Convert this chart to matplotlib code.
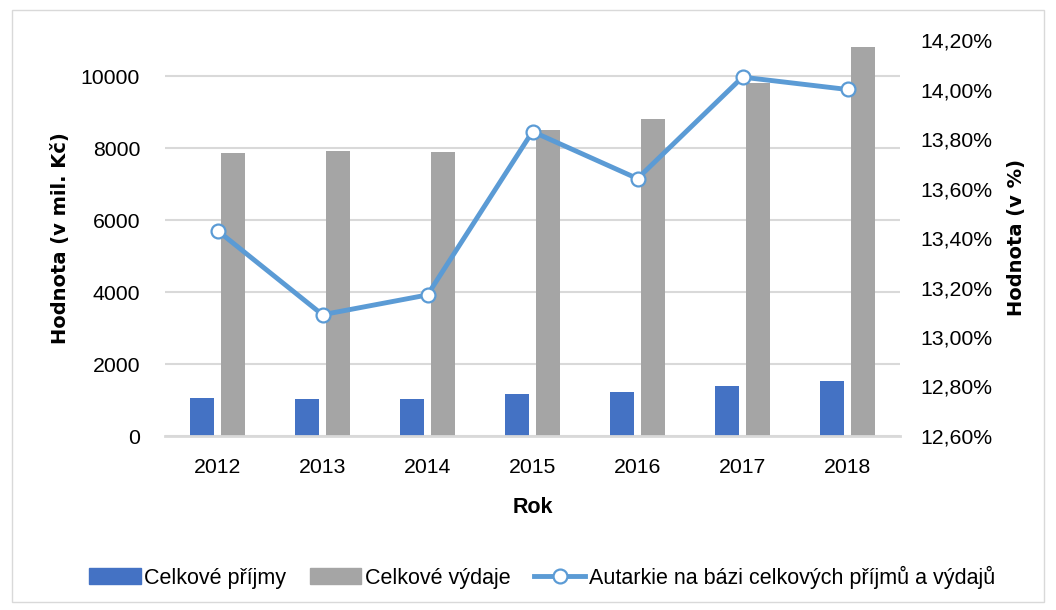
import numpy as np
import matplotlib
matplotlib.use("Agg")
import matplotlib.pyplot as plt
from matplotlib.patches import Rectangle
from matplotlib.lines import Line2D
from matplotlib.ticker import FuncFormatter

# Data
years = ["2012", "2013", "2014", "2015", "2016", "2017", "2018"]
prijmy = [1056, 1037, 1037, 1180, 1213, 1380, 1518]        # mil. Kč
vydaje = [7861, 7917, 7880, 8491, 8806, 9806, 10806]       # mil. Kč
autarkie = [13.43, 13.09, 13.17, 13.83, 13.64, 14.05, 14.00]  # %

blue = "#4472C4"
gray = "#A5A5A5"
line_blue = "#5B9BD5"
grid_col = "#D9D9D9"

txt_font = ["Liberation Sans", "DejaVu Sans"]
fs = 15.3

fig = plt.figure(figsize=(10.56, 6.10), dpi=100)
ax = fig.add_axes([165 / 1056, 1 - 436 / 610, 735 / 1056, 396 / 610])

x = np.arange(len(years))
w = 0.225
ax.bar(x - 0.145, prijmy, width=w, color=blue, zorder=2)
ax.bar(x + 0.145, vydaje, width=w, color=gray, zorder=2)

ax.set_xlim(-0.5, len(years) - 0.5)
ax.set_ylim(0, 11000)
ax.set_yticks([0, 2000, 4000, 6000, 8000, 10000])
ax.set_xticks(x)
ax.set_xticklabels(years)
ax.yaxis.grid(True, color=grid_col, linewidth=1.5, zorder=0)
ax.set_axisbelow(True)
for s in ["top", "right", "left"]:
    ax.spines[s].set_visible(False)
ax.spines["bottom"].set_color(grid_col)
ax.spines["bottom"].set_linewidth(2)
ax.tick_params(axis="both", length=0, labelsize=fs)
ax.tick_params(axis="y", pad=18)
ax.tick_params(axis="x", pad=16)
for lab in ax.get_xticklabels() + ax.get_yticklabels():
    lab.set_family(txt_font)

ax.set_ylabel("Hodnota (v mil. Kč)", fontsize=14, fontweight="bold", family="DejaVu Sans", labelpad=8)
ax.set_xlabel("Rok", fontsize=15.5, fontweight="bold", family=txt_font, labelpad=14)

ax2 = ax.twinx()
ax2.plot(x, autarkie, color=line_blue, linewidth=3.5, marker="o", markersize=10,
         markerfacecolor="white", markeredgecolor=line_blue, markeredgewidth=1.6, zorder=3)
ax2.set_ylim(12.6, 14.2)
ax2.set_yticks(np.arange(12.6, 14.21, 0.2))
ax2.yaxis.set_major_formatter(FuncFormatter(lambda v, p: f"{v:.2f}".replace(".", ",") + "%"))
for s in ["top", "right", "left", "bottom"]:
    ax2.spines[s].set_visible(False)
ax2.tick_params(axis="y", length=0, labelsize=fs, pad=15)
for lab in ax2.get_yticklabels():
    lab.set_family(txt_font)
ax2.set_ylabel("Hodnota (v %)", fontsize=14, fontweight="bold", family="DejaVu Sans", labelpad=10)

handles = [
    Rectangle((0, 0), 1, 1, color=blue),
    Rectangle((0, 0), 1, 1, color=gray),
    Line2D([0], [0], color=line_blue, linewidth=3.5, marker="o", markersize=10,
           markerfacecolor="white", markeredgecolor=line_blue, markeredgewidth=1.6),
]
labels = ["Celkové příjmy", "Celkové výdaje", "Autarkie na bázi celkových příjmů a výdajů"]
fig.legend(handles, labels, loc="center", bbox_to_anchor=(542 / 1056, 1 - 577 / 610), ncol=3,
           frameon=False, prop={"family": txt_font, "size": 15.5}, handlelength=2.4,
           handletextpad=0.15, columnspacing=1.1)

fig.patches.append(Rectangle((12 / 1056, 8 / 610), 1032 / 1056, 592 / 610, transform=fig.transFigure,
                             fill=False, edgecolor=grid_col, linewidth=1))

fig.savefig("out.png", dpi=100)
